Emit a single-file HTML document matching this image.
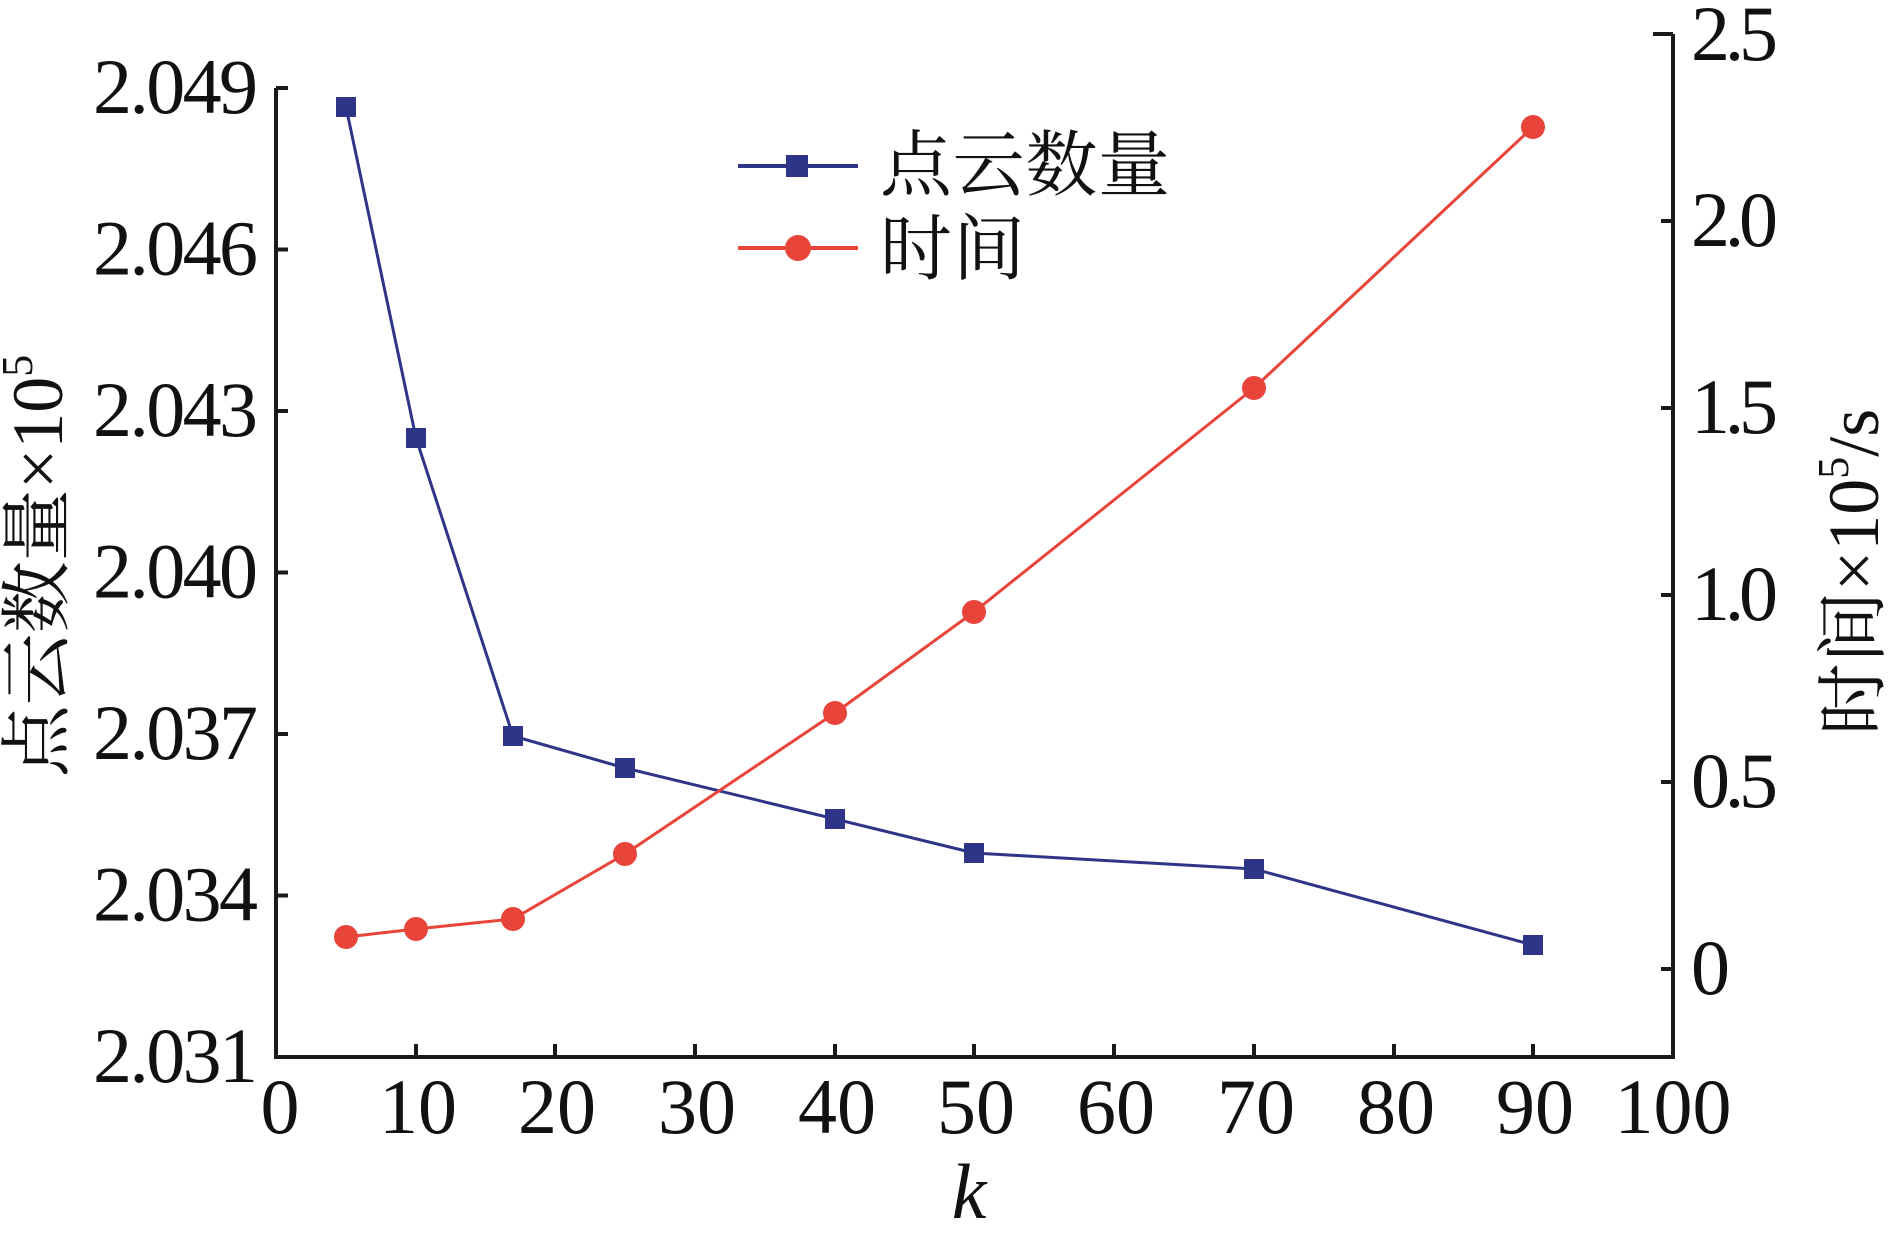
<!DOCTYPE html>
<html><head><meta charset="utf-8"><style>html,body{margin:0;padding:0;background:#fff}svg{display:block}svg text{font-family:"Liberation Serif","Noto Serif CJK SC",serif}</style></head>
<body>
<svg width="1890" height="1243" viewBox="0 0 1890 1243" xmlns="http://www.w3.org/2000/svg" fill="#111">
<g stroke="#1a1a1a" stroke-width="4" fill="none">
<path d="M276 88 V1057 H1673 V34"/>
<path d="M276 88 h12 M276 249.5 h12 M276 411 h12 M276 572.5 h12 M276 734 h12 M276 895.5 h12"/>
<path d="M1673 34 h-20 M1673 221 h-12 M1673 408 h-12 M1673 595 h-12 M1673 782 h-12 M1673 969 h-12"/>
<path d="M416 1057 v-13 M555 1057 v-13 M695 1057 v-13 M835 1057 v-13 M974 1057 v-13 M1114 1057 v-13 M1254 1057 v-13 M1394 1057 v-13 M1533 1057 v-13"/>
</g>
<g font-size="78" text-anchor="end">
<text x="258" y="113" textLength="165">2.049</text>
<text x="258" y="274.5" textLength="165">2.046</text>
<text x="258" y="436" textLength="165">2.043</text>
<text x="258" y="597.5" textLength="165">2.040</text>
<text x="258" y="759" textLength="165">2.037</text>
<text x="258" y="920.5" textLength="165">2.034</text>
<text x="258" y="1082" textLength="165">2.031</text>
</g>
<g font-size="78">
<text x="1691" y="60" textLength="87">2.5</text>
<text x="1691" y="246" textLength="87">2.0</text>
<text x="1691" y="433" textLength="87">1.5</text>
<text x="1691" y="620" textLength="87">1.0</text>
<text x="1691" y="807" textLength="87">0.5</text>
<text x="1691" y="994">0</text>
</g>
<g font-size="78" text-anchor="middle">
<text x="280" y="1133">0</text><text x="418" y="1133">10</text><text x="557" y="1133">20</text>
<text x="697" y="1133">30</text><text x="837" y="1133">40</text><text x="976" y="1133">50</text>
<text x="1116" y="1133">60</text><text x="1256" y="1133">70</text><text x="1396" y="1133">80</text>
<text x="1535" y="1133">90</text><text x="1673" y="1133">100</text>
</g>
<text x="969" y="1218" font-size="78" font-style="italic" text-anchor="middle">k</text>
<text transform="translate(62,566) rotate(-90)" font-size="72" text-anchor="middle">点云数量×10<tspan font-size="44" dy="-30">5</tspan></text>
<text transform="translate(1878,572) rotate(-90)" font-size="72" text-anchor="middle">时间×10<tspan font-size="44" dy="-30">5</tspan><tspan dy="30">/s</tspan></text>
<polyline fill="none" stroke="#2e3588" stroke-width="3" points="346,107 416,438 513,736 625,768 835,819 974,853 1254,869 1533,945"/>
<g fill="#2e3588">
<rect x="336" y="97" width="20" height="20"/><rect x="406" y="428" width="20" height="20"/><rect x="503" y="726" width="20" height="20"/><rect x="615" y="758" width="20" height="20"/><rect x="825" y="809" width="20" height="20"/><rect x="964" y="843" width="20" height="20"/><rect x="1244" y="859" width="20" height="20"/><rect x="1523" y="935" width="20" height="20"/>
</g>
<polyline fill="none" stroke="#e8443a" stroke-width="3" points="346,937 416,929 513,919 625,854 835,713 974,612 1254,388 1533,127"/>
<g fill="#e8443a">
<circle cx="346" cy="937" r="12"/><circle cx="416" cy="929" r="12"/><circle cx="513" cy="919" r="12"/><circle cx="625" cy="854" r="12"/><circle cx="835" cy="713" r="12"/><circle cx="974" cy="612" r="12"/><circle cx="1254" cy="388" r="12"/><circle cx="1533" cy="127" r="12"/>
</g>
<line x1="738" y1="166" x2="858" y2="166" stroke="#2e3588" stroke-width="4"/>
<rect x="786" y="155" width="22" height="22" fill="#2e3588"/>
<text x="880" y="190" font-size="72" textLength="290">点云数量</text>
<line x1="738" y1="248" x2="858" y2="248" stroke="#e8443a" stroke-width="4"/>
<circle cx="798" cy="248" r="13" fill="#e8443a"/>
<text x="880" y="274" font-size="72" textLength="145">时间</text>
</svg>
</body></html>
